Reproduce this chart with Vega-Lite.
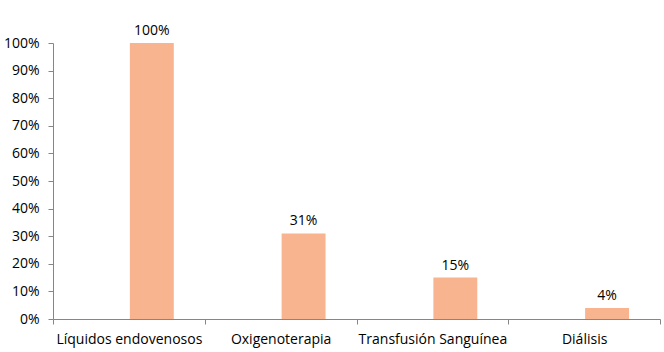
{
  "$schema": "https://vega.github.io/schema/vega-lite/v6.json",
  "autosize": "none",
  "width": 607,
  "height": 276,
  "padding": {"left": 53, "top": 43, "right": 4, "bottom": 33},
  "background": "white",
  "config": {
    "view": {"stroke": null},
    "font": "Open Sans",
    "axis": {"labelFont": "Open Sans", "labelFontSize": 14, "labelColor": "#000000", "domainColor": "#868686", "tickColor": "#868686", "tickSize": 5, "grid": false}
  },
  "data": {"values": [
    {"categoria": "Líquidos endovenosos", "serie": "B", "valor": 1.00},
    {"categoria": "Oxigenoterapia", "serie": "B", "valor": 0.31},
    {"categoria": "Transfusión Sanguínea", "serie": "B", "valor": 0.15},
    {"categoria": "Diálisis", "serie": "B", "valor": 0.04}
  ]},
  "encoding": {
    "x": {"field": "categoria", "type": "nominal", "sort": null,
      "scale": {"paddingInner": 0, "paddingOuter": 0},
      "axis": {"title": null, "labelAngle": 0, "tickBand": "extent", "labelPadding": 8}},
    "xOffset": {"field": "serie", "type": "nominal",
      "scale": {"domain": ["A", "B"], "paddingInner": 0.0435, "paddingOuter": 0.674}},
    "y": {"field": "valor", "type": "quantitative",
      "scale": {"domain": [0, 1], "nice": false},
      "axis": {"title": null, "format": ".0%", "values": [0,0.1,0.2,0.3,0.4,0.5,0.6,0.7,0.8,0.9,1.0], "labelPadding": 9}}
  },
  "layer": [
    {"mark": {"type": "bar", "color": "#F8B48F"}},
    {"mark": {"type": "text", "baseline": "bottom", "dy": -5, "fontSize": 14, "color": "#000000"},
     "encoding": {"text": {"field": "valor", "type": "quantitative", "format": ".0%"}}}
  ]
}
